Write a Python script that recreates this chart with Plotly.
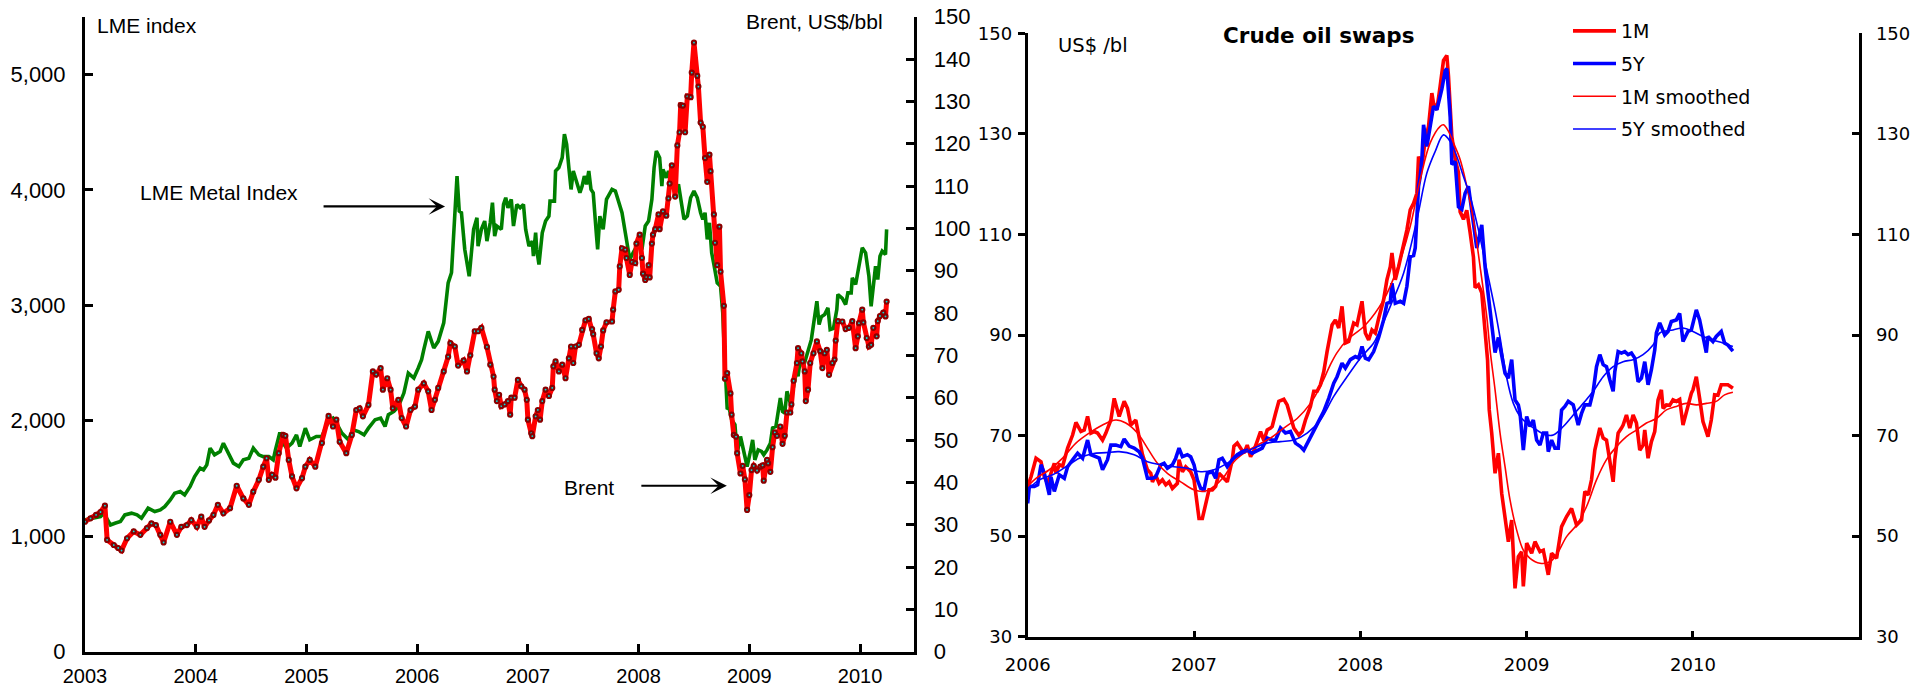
import plotly.graph_objects as go

# ---------------- Left chart data (decimal years) ----------------
brent_t = [2003.00, 2003.05, 2003.10, 2003.14, 2003.18, 2003.20, 2003.26, 2003.30, 2003.33, 2003.38,
           2003.44, 2003.50, 2003.56, 2003.60, 2003.64, 2003.68, 2003.71, 2003.77, 2003.83, 2003.87,
           2003.92, 2003.96, 2004.01, 2004.05, 2004.08, 2004.12, 2004.16, 2004.20, 2004.25, 2004.31,
           2004.37, 2004.43, 2004.48, 2004.52, 2004.57, 2004.61, 2004.64, 2004.66, 2004.69, 2004.72,
           2004.75, 2004.79, 2004.81, 2004.84, 2004.87, 2004.91, 2004.96, 2004.99, 2005.03, 2005.08,
           2005.14, 2005.20, 2005.24, 2005.27, 2005.30, 2005.36, 2005.41, 2005.45, 2005.48, 2005.51,
           2005.56, 2005.60, 2005.63, 2005.67, 2005.69, 2005.73, 2005.76, 2005.78, 2005.83, 2005.86,
           2005.90, 2005.94, 2005.98, 2006.01, 2006.06, 2006.10, 2006.13, 2006.16, 2006.19, 2006.24,
           2006.28, 2006.30, 2006.34, 2006.37, 2006.42, 2006.45, 2006.48, 2006.52, 2006.55, 2006.58,
           2006.63, 2006.66, 2006.69, 2006.70, 2006.72, 2006.74, 2006.76, 2006.79, 2006.82, 2006.84,
           2006.85, 2006.88, 2006.91, 2006.94, 2006.97, 2006.99, 2007.00, 2007.03, 2007.04, 2007.07,
           2007.09, 2007.11, 2007.13, 2007.16, 2007.19, 2007.22, 2007.23, 2007.25, 2007.28, 2007.31,
           2007.34, 2007.37, 2007.39, 2007.41, 2007.43, 2007.46, 2007.49, 2007.52, 2007.55, 2007.58,
           2007.59, 2007.62, 2007.64, 2007.66, 2007.68, 2007.71, 2007.76, 2007.77, 2007.79, 2007.82,
           2007.83, 2007.85, 2007.88, 2007.89, 2007.92, 2007.94, 2007.97, 2007.98, 2008.01, 2008.03,
           2008.04, 2008.06, 2008.07, 2008.09, 2008.10, 2008.12, 2008.13, 2008.15, 2008.18, 2008.19,
           2008.22, 2008.25, 2008.27, 2008.28, 2008.30, 2008.33, 2008.35, 2008.37, 2008.38, 2008.40,
           2008.42, 2008.44, 2008.47, 2008.48, 2008.50, 2008.53, 2008.54, 2008.56, 2008.58, 2008.60,
           2008.62, 2008.64, 2008.65, 2008.68, 2008.69, 2008.71, 2008.73, 2008.74, 2008.77, 2008.78,
           2008.80, 2008.83, 2008.84, 2008.86, 2008.88, 2008.89, 2008.92, 2008.94, 2008.96, 2008.98,
           2009.00, 2009.02, 2009.04, 2009.07, 2009.10, 2009.12, 2009.13, 2009.16, 2009.17, 2009.19,
           2009.21, 2009.23, 2009.25, 2009.28, 2009.30, 2009.32, 2009.34, 2009.37, 2009.38, 2009.40,
           2009.43, 2009.44, 2009.47, 2009.48, 2009.50, 2009.51, 2009.53, 2009.55, 2009.58, 2009.61,
           2009.64, 2009.66, 2009.68, 2009.70, 2009.72, 2009.75, 2009.77, 2009.78, 2009.80, 2009.84,
           2009.87, 2009.90, 2009.93, 2009.96, 2009.98, 2009.99, 2010.02, 2010.03, 2010.06, 2010.08,
           2010.10, 2010.12, 2010.15, 2010.16, 2010.18, 2010.21, 2010.23, 2010.24]
brent_v = [30.7, 31.5, 32.3, 33.0, 34.5, 26.4, 25.2, 24.5, 23.9, 26.8,
           28.4, 27.6, 29.2, 30.3, 29.9, 27.6, 25.8, 30.7, 27.6, 29.5,
           29.9, 31.1, 29.5, 31.9, 29.5, 31.0, 32.3, 34.7, 32.7, 33.9,
           39.2, 36.2, 34.7, 37.8, 40.6, 43.7, 45.7, 40.6, 41.8, 41.1,
           46.9, 51.2, 51.0, 45.3, 41.4, 38.6, 41.0, 43.7, 45.3, 43.7,
           49.3, 55.7, 53.2, 54.8, 49.6, 46.9, 51.2, 57.1, 57.5, 55.6,
           58.3, 66.2, 65.5, 67.0, 61.9, 64.6, 61.9, 57.5, 59.5, 55.2,
           53.2, 57.1, 57.9, 61.9, 63.4, 61.5, 57.1, 59.5, 62.3, 66.2,
           69.7, 72.9, 72.1, 67.6, 68.8, 66.2, 70.0, 75.7, 75.7, 76.5,
           72.0, 67.8, 65.0, 61.9, 59.2, 60.7, 58.0, 58.4, 59.2, 56.0,
           60.0, 60.0, 64.2, 62.7, 61.9, 59.5, 54.8, 51.6, 50.9, 55.6,
           57.1, 54.8, 59.2, 61.9, 60.4, 62.3, 67.4, 68.6, 66.2, 67.8,
           64.6, 69.3, 72.1, 68.2, 72.1, 72.5, 76.0, 78.3, 78.6, 76.2,
           75.0, 70.5, 69.3, 72.1, 75.9, 77.8, 78.0, 80.8, 85.1, 85.5,
           91.0, 95.3, 95.0, 93.0, 89.0, 92.1, 91.8, 96.4, 98.5, 93.0,
           89.3, 87.8, 88.5, 91.3, 88.4, 96.4, 98.5, 99.8, 103.3, 99.8,
           104.0, 103.0, 107.1, 110.6, 114.9, 107.5, 119.6, 122.7, 129.1, 129.0,
           122.7, 131.2, 131.0, 136.8, 143.9, 136.0, 133.5, 125.0, 124.0, 116.6,
           111.0, 117.4, 113.5, 103.3, 96.6, 91.3, 100.4, 89.8, 81.7, 64.5,
           65.8, 61.0, 56.0, 51.2, 50.8, 46.9, 42.1, 43.9, 40.7, 33.5,
           37.0, 42.9, 43.9, 42.8, 43.7, 44.0, 40.4, 45.3, 44.5, 42.5,
           48.3, 51.8, 51.0, 53.2, 49.1, 51.0, 56.5, 56.5, 58.4, 64.0,
           68.2, 71.7, 70.5, 68.6, 66.2, 59.2, 61.9, 68.2, 70.5, 73.3,
           71.0, 67.0, 70.5, 71.3, 65.4, 68.2, 69.0, 73.5, 78.1, 78.0,
           76.2, 76.5, 78.1, 71.7, 74.5, 77.6, 80.8, 77.8, 74.1, 72.1,
           72.5, 76.5, 74.5, 78.1, 79.3, 80.1, 79.2, 82.7]

lme_t = [2003.00, 2003.08, 2003.14, 2003.17, 2003.23, 2003.27, 2003.32, 2003.36, 2003.42, 2003.47,
         2003.51, 2003.57, 2003.63, 2003.68, 2003.72, 2003.77, 2003.81, 2003.86, 2003.90, 2003.95,
         2003.99, 2004.04, 2004.07, 2004.10, 2004.13, 2004.17, 2004.22, 2004.25, 2004.30, 2004.34,
         2004.39, 2004.43, 2004.48, 2004.52, 2004.57, 2004.61, 2004.66, 2004.70, 2004.72, 2004.76,
         2004.79, 2004.82, 2004.87, 2004.91, 2004.94, 2004.99, 2005.03, 2005.09, 2005.14, 2005.17,
         2005.21, 2005.24, 2005.28, 2005.32, 2005.38, 2005.42, 2005.47, 2005.52, 2005.56, 2005.62,
         2005.67, 2005.71, 2005.74, 2005.79, 2005.83, 2005.88, 2005.92, 2005.97, 2006.01, 2006.04,
         2006.06, 2006.10, 2006.15, 2006.19, 2006.24, 2006.28, 2006.31, 2006.33, 2006.36, 2006.38,
         2006.40, 2006.43, 2006.47, 2006.51, 2006.54, 2006.55, 2006.58, 2006.61, 2006.63, 2006.66,
         2006.68, 2006.70, 2006.72, 2006.76, 2006.78, 2006.80, 2006.82, 2006.85, 2006.87, 2006.90,
         2006.93, 2006.96, 2006.98, 2007.01, 2007.04, 2007.05, 2007.07, 2007.08, 2007.10, 2007.13,
         2007.16, 2007.19, 2007.20, 2007.24, 2007.25, 2007.28, 2007.31, 2007.33, 2007.35, 2007.37,
         2007.39, 2007.41, 2007.44, 2007.47, 2007.49, 2007.51, 2007.53, 2007.55, 2007.57, 2007.59,
         2007.62, 2007.63, 2007.65, 2007.68, 2007.71, 2007.76, 2007.79, 2007.82, 2007.85, 2007.88,
         2007.90, 2007.92, 2007.95, 2008.00, 2008.03, 2008.06, 2008.09, 2008.12, 2008.14, 2008.16,
         2008.19, 2008.21, 2008.22, 2008.25, 2008.27, 2008.30, 2008.33, 2008.36, 2008.39, 2008.41,
         2008.44, 2008.47, 2008.50, 2008.53, 2008.56, 2008.58, 2008.60, 2008.62, 2008.64, 2008.66,
         2008.68, 2008.71, 2008.74, 2008.76, 2008.77, 2008.80, 2008.82, 2008.84, 2008.87, 2008.89,
         2008.92, 2008.94, 2008.96, 2008.98, 2009.01, 2009.03, 2009.05, 2009.08, 2009.11, 2009.13,
         2009.16, 2009.19, 2009.21, 2009.24, 2009.28, 2009.30, 2009.32, 2009.34, 2009.37, 2009.40,
         2009.43, 2009.44, 2009.46, 2009.49, 2009.51, 2009.53, 2009.55, 2009.56, 2009.61, 2009.63,
         2009.65, 2009.68, 2009.71, 2009.73, 2009.76, 2009.79, 2009.80, 2009.84, 2009.87, 2009.89,
         2009.92, 2009.93, 2009.96, 2009.99, 2010.02, 2010.05, 2010.08, 2010.10, 2010.12, 2010.14,
         2010.16, 2010.18, 2010.20, 2010.23, 2010.24]
lme_v = [1142, 1156, 1170, 1200, 1098, 1113, 1127, 1185, 1200, 1185,
         1156, 1243, 1214, 1228, 1257, 1315, 1373, 1387, 1358, 1431,
         1517, 1590, 1575, 1618, 1763, 1705, 1734, 1806, 1705, 1633,
         1604, 1662, 1676, 1763, 1705, 1690, 1690, 1662, 1748, 1899,
         1806, 1763, 1806, 1878, 1777, 1936, 1835, 1864, 1864, 1936,
         2009, 2023, 1965, 1893, 1835, 1922, 1907, 1878, 1936, 2009,
         2023, 1951, 2052, 2081, 2124, 2240, 2413, 2370, 2457, 2529,
         2617, 2775, 2630, 2688, 2848, 3195, 3282, 3600, 4120, 3816,
         3802, 3484, 3252, 3658, 3759, 3513, 3658, 3730, 3556, 3715,
         3889, 3600, 3687, 3658, 3874, 3932, 3845, 3918, 3687, 3874,
         3845, 3874, 3658, 3513, 3556, 3426, 3629, 3484, 3354, 3629,
         3730, 3773, 3903, 3903, 4164, 4193, 4279, 4482, 4395, 4193,
         4004, 4164, 4062, 3975, 4033, 4120, 4048, 4164, 4004, 3975,
         3600, 3484, 3773, 3658, 3918, 4004, 3990, 3888, 3802, 3629,
         3484, 3397, 3455, 3542, 3484, 3687, 3730, 3918, 4193, 4337,
         4279, 4033, 4177, 4105, 4164, 4062, 3975, 4048, 3874, 3745,
         3773, 3932, 3990, 3932, 3802, 3745, 3802, 3571, 3715, 3455,
         3354, 3195, 3166, 2935, 2703, 2110, 2100, 2010, 1966, 1719,
         1864, 1777, 1662, 1604, 1734, 1835, 1662, 1748, 1734, 1705,
         1748, 1806, 1938, 1951, 2197, 2081, 2067, 2255, 2154, 2284,
         2443, 2385, 2530, 2472, 2544, 2588, 2675, 2703, 3036, 2833,
         2900, 2920, 2978, 2790, 2800, 2963, 3094, 3060, 3007, 3108,
         3108, 3238, 3180, 3354, 3499, 3455, 3253, 2992, 3166, 3339,
         3224, 3426, 3469, 3441, 3658]

left_years = [2003, 2004, 2005, 2006, 2007, 2008, 2009, 2010]
lme_ticks = [0, 1000, 2000, 3000, 4000, 5000]
brent_ticks = list(range(0, 151, 10))

# ---------------- Right chart data (decimal years) ----------------
m1_t = [2006.00, 2006.02, 2006.05, 2006.08, 2006.10, 2006.12, 2006.14, 2006.16, 2006.17, 2006.19,
        2006.21, 2006.24, 2006.27, 2006.29, 2006.32, 2006.34, 2006.36, 2006.38, 2006.40, 2006.42,
        2006.45, 2006.47, 2006.50, 2006.52, 2006.55, 2006.58, 2006.60, 2006.62, 2006.65, 2006.67,
        2006.69, 2006.72, 2006.74, 2006.75, 2006.77, 2006.79, 2006.81, 2006.83, 2006.85, 2006.87,
        2006.90, 2006.91, 2006.93, 2006.95, 2006.98, 2007.00, 2007.01, 2007.03, 2007.05, 2007.07,
        2007.09, 2007.11, 2007.13, 2007.15, 2007.17, 2007.20, 2007.23, 2007.24, 2007.26, 2007.28,
        2007.30, 2007.32, 2007.34, 2007.36, 2007.38, 2007.40, 2007.42, 2007.44, 2007.46, 2007.47,
        2007.49, 2007.51, 2007.54, 2007.56, 2007.58, 2007.60, 2007.63, 2007.65, 2007.67, 2007.70,
        2007.72, 2007.74, 2007.76, 2007.78, 2007.80, 2007.81, 2007.83, 2007.85, 2007.87, 2007.89,
        2007.91, 2007.93, 2007.96, 2007.98, 2008.01, 2008.03, 2008.05, 2008.07, 2008.09, 2008.11,
        2008.14, 2008.16, 2008.18, 2008.19, 2008.21, 2008.23, 2008.26, 2008.28, 2008.30, 2008.32,
        2008.34, 2008.35, 2008.37, 2008.39, 2008.41, 2008.43, 2008.44, 2008.46, 2008.48, 2008.50,
        2008.52, 2008.53, 2008.55, 2008.57, 2008.59, 2008.60, 2008.62, 2008.64, 2008.66, 2008.68,
        2008.69, 2008.71, 2008.73, 2008.75, 2008.765, 2008.775, 2008.79, 2008.81, 2008.83, 2008.85,
        2008.87, 2008.89, 2008.91, 2008.93, 2008.95, 2008.97, 2008.98, 2009.00, 2009.03, 2009.05,
        2009.08, 2009.10, 2009.13, 2009.15, 2009.18, 2009.21, 2009.24, 2009.27, 2009.30, 2009.33,
        2009.35, 2009.37, 2009.39, 2009.41, 2009.44, 2009.46, 2009.48, 2009.50, 2009.52, 2009.53,
        2009.55, 2009.57, 2009.58, 2009.60, 2009.62, 2009.64, 2009.66, 2009.68, 2009.70, 2009.71,
        2009.73, 2009.75, 2009.77, 2009.79, 2009.81, 2009.82, 2009.84, 2009.86, 2009.88, 2009.90,
        2009.92, 2009.94, 2009.97, 2009.99, 2010.00, 2010.02, 2010.04, 2010.06, 2010.07, 2010.09,
        2010.11, 2010.13, 2010.15, 2010.17, 2010.19, 2010.21, 2010.24]
m1_v = [59.9, 61.8, 65.5, 64.8, 61.8, 60.5, 62.5, 64.5, 62.5, 64.2,
        63.9, 67.5, 70.1, 72.6, 70.8, 71.1, 73.8, 70.5, 70.8, 70.5,
        69.1, 70.5, 73.1, 77.4, 73.8, 76.8, 75.4, 72.1, 73.1, 69.8,
        66.2, 63.2, 62.5, 60.8, 62.1, 60.5, 61.2, 60.2, 60.8, 59.5,
        60.5, 65.2, 62.8, 63.8, 62.8, 61.2, 58.5, 53.5, 53.5, 56.5,
        59.2, 59.2, 59.9, 62.5, 61.8, 60.8, 65.2, 67.9, 68.5, 67.5,
        66.5, 68.1, 65.8, 67.0, 69.1, 70.8, 69.0, 71.1, 71.5, 71.8,
        74.4, 76.8, 77.2, 76.1, 73.8, 71.5, 70.1, 70.8, 73.1, 75.8,
        78.8, 78.8, 80.1, 82.7, 86.7, 88.5, 92.0, 93.0, 91.4, 95.7,
        88.4, 88.7, 92.4, 92.0, 96.7, 90.4, 89.0, 91.0, 90.4, 93.3,
        97.0, 101.0, 103.6, 106.3, 101.0, 103.6, 107.6, 110.9, 114.9, 116.2,
        118.2, 125.5, 123.5, 128.8, 131.5, 138.1, 136.1, 134.8, 139.5, 144.6,
        145.6, 141.5, 129.5, 125.0, 122.3, 114.5, 113.0, 114.8, 110.4, 105.5,
        99.4, 100.0, 98.4, 91.1, 85.0, 75.1, 70.5, 62.5, 66.5, 58.5,
        53.2, 48.9, 53.2, 39.6, 45.9, 46.9, 40.0, 48.6, 46.6, 48.9,
        46.9, 47.2, 42.3, 46.6, 45.6, 51.9, 53.9, 55.5, 52.2, 53.2,
        58.9, 58.2, 61.2, 67.1, 71.5, 69.5, 69.1, 64.5, 60.8, 65.2,
        70.5, 71.5, 72.1, 74.1, 71.5, 74.1, 72.5, 67.1, 68.1, 71.1,
        65.5, 68.8, 70.8, 77.1, 79.1, 75.4, 76.1, 76.0, 77.1, 76.8,
        77.2, 72.1, 76.1, 78.4, 79.1, 81.7, 77.4, 72.8, 71.8, 69.8,
        73.1, 78.1, 78.0, 80.1, 80.1, 80.1, 79.4]

y5_t = [2006.00, 2006.01, 2006.04, 2006.06, 2006.08, 2006.10, 2006.13, 2006.14, 2006.16, 2006.19,
        2006.22, 2006.24, 2006.27, 2006.30, 2006.33, 2006.36, 2006.38, 2006.41, 2006.43, 2006.45,
        2006.48, 2006.50, 2006.53, 2006.56, 2006.58, 2006.61, 2006.64, 2006.67, 2006.69, 2006.72,
        2006.75, 2006.77, 2006.80, 2006.82, 2006.84, 2006.87, 2006.89, 2006.91, 2006.93, 2006.96,
        2006.98, 2007.00, 2007.02, 2007.04, 2007.06, 2007.08, 2007.11, 2007.13, 2007.15, 2007.17,
        2007.20, 2007.23, 2007.26, 2007.29, 2007.32, 2007.35, 2007.38, 2007.41, 2007.44, 2007.47,
        2007.49, 2007.52, 2007.55, 2007.58, 2007.61, 2007.64, 2007.66, 2007.69, 2007.72, 2007.75,
        2007.78, 2007.81, 2007.84, 2007.86, 2007.89, 2007.91, 2007.94, 2007.97, 2007.99, 2008.01,
        2008.03, 2008.05, 2008.08, 2008.11, 2008.14, 2008.16, 2008.18, 2008.19, 2008.21, 2008.24,
        2008.26, 2008.28, 2008.30, 2008.32, 2008.33, 2008.35, 2008.36, 2008.37, 2008.38, 2008.40,
        2008.42, 2008.44, 2008.46, 2008.49, 2008.51, 2008.52, 2008.54, 2008.55, 2008.57, 2008.59,
        2008.61, 2008.63, 2008.65, 2008.68, 2008.70, 2008.73, 2008.75, 2008.77, 2008.79, 2008.81,
        2008.83, 2008.85, 2008.87, 2008.89, 2008.91, 2008.93, 2008.95, 2008.96, 2008.98, 2009.00,
        2009.02, 2009.04, 2009.06, 2009.08, 2009.10, 2009.12, 2009.13, 2009.15, 2009.17, 2009.19,
        2009.21, 2009.23, 2009.25, 2009.28, 2009.31, 2009.33, 2009.35, 2009.38, 2009.40, 2009.42,
        2009.44, 2009.46, 2009.48, 2009.50, 2009.52, 2009.53, 2009.55, 2009.57, 2009.59, 2009.61,
        2009.63, 2009.65, 2009.67, 2009.69, 2009.71, 2009.73, 2009.75, 2009.77, 2009.78, 2009.80,
        2009.83, 2009.85, 2009.87, 2009.90, 2009.92, 2009.94, 2009.97, 2009.99, 2010.02, 2010.04,
        2010.06, 2010.08, 2010.09, 2010.12, 2010.14, 2010.17, 2010.19, 2010.21, 2010.24]
y5_v = [56.5, 59.9, 59.9, 60.2, 64.2, 62.5, 58.2, 61.8, 58.9, 62.2,
        61.5, 63.8, 65.2, 66.5, 65.5, 69.1, 66.2, 65.8, 65.5, 63.2,
        65.2, 68.1, 68.1, 67.8, 69.3, 67.9, 67.5, 66.8, 65.5, 61.5,
        61.5, 61.8, 64.2, 64.5, 63.5, 64.2, 65.5, 67.5, 65.8, 66.2,
        65.8, 64.2, 61.2, 59.5, 59.2, 62.5, 62.8, 61.5, 65.2, 65.5,
        63.8, 65.2, 66.2, 66.8, 67.1, 66.5, 67.1, 67.5, 69.5, 69.1,
        69.1, 71.5, 70.5, 70.8, 68.5, 67.8, 67.1, 69.1, 70.8, 73.1,
        74.8, 77.4, 80.4, 81.7, 84.4, 83.4, 85.1, 85.7, 85.4, 87.7,
        85.4, 85.1, 86.7, 89.5, 93.0, 96.3, 96.5, 100.3, 96.3, 96.7,
        96.3, 99.7, 105.6, 105.8, 107.3, 119.6, 121.5, 125.0, 131.8, 127.5,
        131.5, 135.5, 134.8, 138.9, 142.5, 143.0, 133.5, 123.9, 124.5, 115.5,
        115.0, 118.2, 119.6, 112.9, 107.3, 111.9, 103.6, 97.7, 91.5, 86.5,
        89.5, 85.7, 82.4, 81.4, 85.1, 77.1, 76.1, 74.5, 67.1, 73.8,
        71.8, 73.1, 69.1, 68.1, 70.5, 70.5, 66.8, 69.1, 67.5, 67.5,
        75.1, 75.8, 76.8, 76.1, 72.1, 74.4, 76.1, 76.1, 78.8, 83.7,
        86.1, 84.1, 83.7, 81.1, 78.8, 82.7, 86.7, 86.4, 86.7, 86.1,
        86.4, 85.4, 80.7, 81.4, 84.7, 80.1, 83.1, 87.0, 90.4, 92.4,
        90.0, 90.7, 92.7, 93.0, 94.3, 88.7, 90.7, 91.0, 95.0, 93.0,
        89.7, 86.5, 89.7, 88.7, 89.7, 90.7, 88.4, 88.0, 86.8]

m1s_t = [2006.00, 2006.05, 2006.13, 2006.21, 2006.29, 2006.37, 2006.45, 2006.53, 2006.59, 2006.66,
         2006.72, 2006.78, 2006.84, 2006.92, 2007.00, 2007.06, 2007.12, 2007.18, 2007.24, 2007.30,
         2007.38, 2007.46, 2007.54, 2007.62, 2007.70, 2007.76, 2007.82, 2007.86, 2007.92, 2008.03,
         2008.14, 2008.22, 2008.30, 2008.36, 2008.42, 2008.48, 2008.50, 2008.53, 2008.56, 2008.60,
         2008.64, 2008.68, 2008.72, 2008.76, 2008.78, 2008.81, 2008.84, 2008.87, 2008.90, 2008.94,
         2008.98, 2009.02, 2009.08, 2009.14, 2009.18, 2009.24, 2009.30, 2009.36, 2009.42, 2009.48,
         2009.54, 2009.60, 2009.66, 2009.72, 2009.78, 2009.84, 2009.90, 2009.96, 2010.02, 2010.08,
         2010.14, 2010.19, 2010.24]
m1s_v = [59.9, 61.5, 63.2, 65.5, 68.5, 70.5, 72.1, 73.1, 72.5, 70.5,
         67.5, 64.5, 62.5, 60.8, 59.2, 58.9, 59.9, 61.8, 64.8, 66.5,
         68.1, 69.5, 71.5, 73.4, 76.4, 79.8, 84.1, 86.5, 89.0, 92.0,
         97.0, 103.0, 111.6, 120.9, 128.2, 131.5, 131.8, 130.5, 128.2, 124.9,
         119.6, 112.9, 103.6, 93.7, 87.0, 79.1, 70.5, 63.8, 57.2, 51.2,
         47.2, 45.6, 44.6, 44.9, 46.3, 49.9, 52.2, 55.9, 61.2, 65.2,
         67.8, 69.8, 71.1, 72.5, 73.4, 75.1, 75.8, 76.4, 76.1, 76.4,
         76.8, 78.1, 78.6]

y5s_t = [2006.00, 2006.07, 2006.15, 2006.23, 2006.31, 2006.39, 2006.47, 2006.55, 2006.64, 2006.72,
         2006.80, 2006.88, 2006.96, 2007.04, 2007.12, 2007.20, 2007.28, 2007.36, 2007.44, 2007.52,
         2007.60, 2007.68, 2007.76, 2007.84, 2007.92, 2008.00, 2008.08, 2008.11, 2008.18, 2008.26,
         2008.34, 2008.40, 2008.45, 2008.50, 2008.54, 2008.58, 2008.62, 2008.66, 2008.71, 2008.76,
         2008.81, 2008.84, 2008.88, 2008.92, 2008.96, 2009.00, 2009.06, 2009.12, 2009.16, 2009.22,
         2009.28, 2009.34, 2009.40, 2009.46, 2009.52, 2009.58, 2009.64, 2009.70, 2009.76, 2009.80,
         2009.88, 2009.94, 2010.00, 2010.06, 2010.12, 2010.18, 2010.24]
y5s_v = [59.2, 61.2, 62.2, 63.8, 65.5, 66.4, 66.6, 66.8, 66.2, 64.8,
         64.2, 63.8, 63.5, 62.8, 63.2, 64.5, 66.2, 67.5, 68.5, 68.8,
         69.1, 70.5, 73.1, 77.8, 81.7, 85.4, 88.4, 90.4, 95.7, 102.3,
         112.9, 122.2, 126.5, 129.8, 128.5, 125.5, 121.5, 117.6, 110.9, 103.0,
         95.0, 89.5, 81.5, 76.4, 73.8, 72.5, 71.1, 70.1, 70.1, 71.8,
         74.1, 76.4, 78.8, 81.7, 83.7, 84.7, 85.1, 86.1, 88.0, 90.4,
         91.0, 91.4, 90.7, 89.7, 89.0, 88.4, 87.7]

right_years = [2006, 2007, 2008, 2009, 2010]
swap_ticks = [30, 50, 70, 90, 110, 130, 150]

# ---------------- Figure ----------------
W, H = 1927, 690
LF = "Liberation Sans, Arial, Helvetica, sans-serif"
RF = "DejaVu Sans, Verdana, sans-serif"

fig = go.Figure()

fig.add_trace(go.Scatter(x=lme_t, y=lme_v, mode="lines", xaxis="x", yaxis="y",
                         line=dict(color="#008000", width=3.6), showlegend=False,
                         name="LME Metal Index"))
fig.add_trace(go.Scatter(x=brent_t, y=brent_v, mode="lines+markers", xaxis="x", yaxis="y2",
                         line=dict(color="#ff0000", width=5),
                         marker=dict(size=4, color="#00e0e0", line=dict(color="#8b0000", width=2.2)),
                         showlegend=False, name="Brent"))

fig.add_trace(go.Scatter(x=m1_t, y=m1_v, mode="lines", xaxis="x3", yaxis="y3",
                         line=dict(color="#ff0000", width=3.6), name="1M", legendgroup="a"))
fig.add_trace(go.Scatter(x=y5_t, y=y5_v, mode="lines", xaxis="x3", yaxis="y3",
                         line=dict(color="#0000ff", width=3.6), name="5Y", legendgroup="b"))
fig.add_trace(go.Scatter(x=m1s_t, y=m1s_v, mode="lines", xaxis="x3", yaxis="y4",
                         line=dict(color="#ff0000", width=1.6, shape="spline"),
                         name="1M smoothed", legendgroup="c"))
fig.add_trace(go.Scatter(x=y5s_t, y=y5s_v, mode="lines", xaxis="x3", yaxis="y4",
                         line=dict(color="#0000ff", width=1.6, shape="spline"),
                         name="5Y smoothed", legendgroup="d"))

ax_common = dict(showline=True, linewidth=3, linecolor="black", showgrid=False,
                 zeroline=False, tickcolor="black", tickwidth=3, automargin=False)

L_dom_x = [85 / W, 914.3 / W]
L_dom_y = [(H - 651.7) / H, (H - 16.7) / H]
R_dom_x = [1027.7 / W, 1859.3 / W]
R_dom_y = [(H - 636.7) / H, (H - 33.3) / H]

fig.update_layout(
    width=W, height=H,
    margin=dict(l=0, r=0, t=0, b=0, pad=0, autoexpand=False),
    paper_bgcolor="white", plot_bgcolor="white",
    xaxis=dict(domain=L_dom_x, range=[2003, 2010.49], tickvals=left_years,
               ticks="inside", ticklen=8, anchor="y",
               tickfont=dict(family=LF, size=20, color="black"), ticklabelstandoff=4,
               **ax_common),
    yaxis=dict(domain=L_dom_y, range=[0, 5500], tickvals=lme_ticks, separatethousands=True,
               ticks="inside", ticklen=8, anchor="x",
               tickfont=dict(family=LF, size=22, color="black"), ticklabelstandoff=12,
               **ax_common),
    yaxis2=dict(domain=L_dom_y, range=[0, 150], tickvals=brent_ticks, overlaying="y",
                side="right", ticks="inside", ticklen=8, anchor="x",
                tickfont=dict(family=LF, size=22, color="black"), ticklabelstandoff=12,
                **ax_common),
    xaxis3=dict(domain=R_dom_x, range=[2006, 2011], tickvals=right_years,
                ticks="inside", ticklen=6, anchor="y3",
                tickfont=dict(family=RF, size=18, color="black"), ticklabelstandoff=10,
                **ax_common),
    yaxis3=dict(domain=R_dom_y, range=[30, 150], tickvals=swap_ticks,
                ticks="outside", ticklen=7, anchor="x3",
                tickfont=dict(family=RF, size=18, color="black"), ticklabelstandoff=2,
                **ax_common),
    yaxis4=dict(domain=R_dom_y, range=[30, 150], tickvals=swap_ticks, overlaying="y3",
                side="right", ticks="inside", ticklen=7, anchor="x3",
                tickfont=dict(family=RF, size=18, color="black"), ticklabelstandoff=10,
                **ax_common),
    legend=dict(x=1568 / W, y=1 - 12 / H, xanchor="left", yanchor="top",
                font=dict(family=RF, size=19, color="black"),
                bgcolor="rgba(0,0,0,0)", traceorder="grouped", tracegroupgap=5,
                itemwidth=43),
    showlegend=True,
)

annotations = [
    dict(text="LME index", xref="paper", yref="paper", x=95 / W, y=1 - 25.3 / H,
         xanchor="left", yanchor="middle", showarrow=False,
         font=dict(family=LF, size=21, color="black")),
    dict(text="Brent, US$/bbl", xref="paper", yref="paper", x=885 / W, y=1 - 21.7 / H,
         xanchor="right", yanchor="middle", showarrow=False,
         font=dict(family=LF, size=21, color="black")),
    dict(text="LME Metal Index", xref="x", yref="y", x=2003.479, y=3974,
         xanchor="left", yanchor="middle", showarrow=False,
         font=dict(family=LF, size=21, color="black")),
    dict(text="", xref="x", yref="y", x=2006.252, y=3857, ax=-123, ay=0,
         showarrow=True, arrowhead=3, arrowwidth=2.2, arrowsize=1.25, arrowcolor="black"),
    dict(text="Brent", xref="x", yref="y2", x=2007.309, y=38.8,
         xanchor="left", yanchor="middle", showarrow=False,
         font=dict(family=LF, size=21, color="black")),
    dict(text="", xref="x", yref="y2", x=2008.797, y=39.2, ax=-87, ay=0,
         showarrow=True, arrowhead=3, arrowwidth=2.2, arrowsize=1.25, arrowcolor="black"),
    dict(text="Crude oil swaps", xref="paper", yref="paper", x=1318.8 / W, y=1 - 35.5 / H,
         xanchor="center", yanchor="middle", showarrow=False,
         font=dict(family=RF, size=21.5, color="black", weight="bold")),
    dict(text="US$ /bl", xref="paper", yref="paper", x=1056 / W, y=1 - 46 / H,
         xanchor="left", yanchor="middle", showarrow=False,
         font=dict(family=RF, size=19.5, color="black")),
]
fig.update_layout(annotations=annotations)

fig.write_html("out.html", config={"displayModeBar": False, "responsive": False},
               post_script="document.body.style.margin='0';")
